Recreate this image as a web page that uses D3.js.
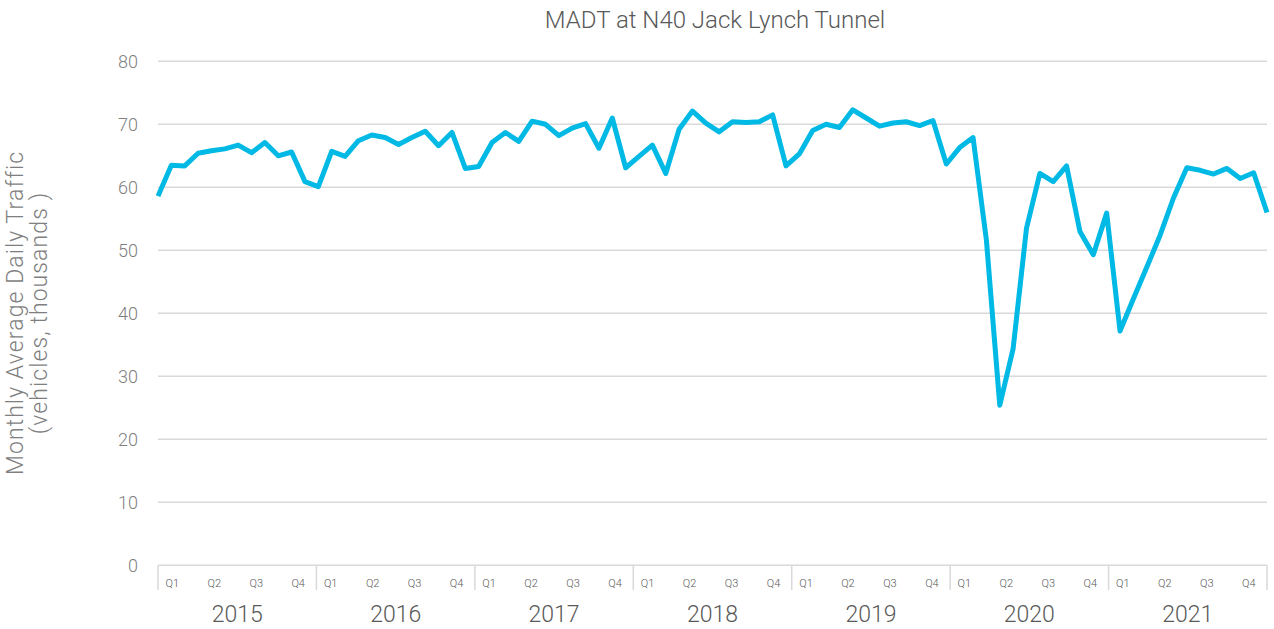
<!DOCTYPE html>
<html>
    <head>
        <title>MADT at N40 Jack Lynch Tunnel</title>
        <script src="https://d3js.org/d3.v7.min.js"></script>
        <style>
            body {
                margin: 0;
                background: white;
            }
            text {
                font-family: Roboto, "Open Sans", sans-serif;
                font-weight: 300;
            }
        </style>
    </head>
    <body>
        <svg id="chart" width="1274" height="629"></svg>

        <script>
            // data (thousands of vehicles per day)
            years = ["2015", "2016", "2017", "2018", "2019", "2020", "2021"]
            quarters = ["Q1", "Q2", "Q3", "Q4"]
            yTicks = [0, 10, 20, 30, 40, 50, 60, 70, 80]

            madt2015 = [58.6, 63.5, 63.4, 65.4, 65.8, 66.1, 66.7, 65.5, 67.1, 65.0, 65.6, 60.9]
            madt2016 = [60.1, 65.7, 64.9, 67.4, 68.3, 67.9, 66.8, 67.9, 68.9, 66.6, 68.7, 63.0]
            madt2017 = [63.3, 67.1, 68.7, 67.3, 70.5, 70.0, 68.2, 69.4, 70.1, 66.2, 71.0, 63.1]
            madt2018 = [64.9, 66.7, 62.2, 69.2, 72.1, 70.2, 68.8, 70.4, 70.3, 70.4, 71.5, 63.4]
            madt2019 = [65.3, 69.0, 70.0, 69.5, 72.3, 71.0, 69.7, 70.2, 70.4, 69.8, 70.6, 63.7]
            madt2020 = [66.3, 67.9, 51.6, 25.4, 34.4, 53.5, 62.2, 60.9, 63.4, 53.0, 49.3, 55.9]
            madt2021 = [37.2, 42.3, 47.3, 52.4, 58.3, 63.1, 62.7, 62.1, 63.0, 61.4, 62.3, 56.0]

            values = [].concat(madt2015, madt2016, madt2017, madt2018, madt2019, madt2020, madt2021)

            svg = d3.select("#chart")

            left = 158
            right = 1267
            top_ = 61.3
            bottom = 565.3

            x = d3.scaleLinear([0, values.length - 1], [left, right])
            y = d3.scaleLinear([0, 80], [bottom, top_])
            yearX = d3.scaleLinear([0, years.length], [left, right])

            grey = "#595959"

            // title
            svg.append("text")
                .attr("x", 715)
                .attr("y", 28)
                .attr("text-anchor", "middle")
                .attr("font-size", 24)
                .attr("fill", grey)
                .text("MADT at N40 Jack Lynch Tunnel")

            // gridlines
            svg.append("g")
                .selectAll("line")
                .data(yTicks.filter(d => d > 0))
                .join("line")
                .attr("x1", left)
                .attr("x2", right)
                .attr("y1", d => y(d))
                .attr("y2", d => y(d))
                .attr("stroke", "#d9d9d9")
                .attr("stroke-width", 1.5)

            // y tick labels
            svg.append("g")
                .selectAll("text")
                .data(yTicks)
                .join("text")
                .attr("x", 138)
                .attr("y", d => y(d) + 6.5)
                .attr("text-anchor", "end")
                .attr("font-size", 18)
                .attr("fill", "#7f7f7f")
                .text(d => d)

            // y axis title
            yt = svg.append("text")
                .attr("transform", "translate(0,313) rotate(-90)")
                .attr("text-anchor", "middle")
                .attr("font-size", 23)
                .attr("letter-spacing", 1.1)
                .attr("fill", "#7f7f7f")
            yt.append("tspan").attr("x", 0).attr("y", 23).text("Monthly Average Daily Traffic")
            yt.append("tspan").attr("x", 0).attr("y", 47).text("(vehicles, thousands )")

            // category axis box
            axis = svg.append("g")
            axis.append("line")
                .attr("x1", left)
                .attr("x2", right)
                .attr("y1", bottom)
                .attr("y2", bottom)
                .attr("stroke", "#d9d9d9")
                .attr("stroke-width", 1.5)

            axis.selectAll(".sep")
                .data(d3.range(years.length + 1))
                .join("line")
                .attr("class", "sep")
                .attr("x1", i => yearX(i))
                .attr("x2", i => yearX(i))
                .attr("y1", bottom)
                .attr("y2", 590)
                .attr("stroke", "#d9d9d9")
                .attr("stroke-width", 1.5)

            qData = []
            years.forEach((yr, i) => quarters.forEach((q, j) => qData.push({year: i, q: j, label: q})))

            axis.selectAll(".q")
                .data(qData)
                .join("text")
                .attr("class", "q")
                .attr("x", d => yearX(d.year + 0.09 + d.q * 0.265))
                .attr("y", 587)
                .attr("text-anchor", "middle")
                .attr("font-size", 11)
                .attr("font-weight", 400)
                .attr("fill", grey)
                .text(d => d.label)

            axis.selectAll(".yr")
                .data(years)
                .join("text")
                .attr("class", "yr")
                .attr("x", (d, i) => yearX(i + 0.5))
                .attr("y", 622)
                .attr("text-anchor", "middle")
                .attr("font-size", 23)
                .attr("fill", grey)
                .text(d => d)

            // the line
            line = d3.line()
                .x((d, i) => x(i))
                .y(d => y(d))

            svg.append("path")
                .datum(values)
                .attr("d", line)
                .attr("fill", "none")
                .attr("stroke", "#00b9e4")
                .attr("stroke-width", 5)
                .attr("stroke-linejoin", "round")
        </script>
    </body>
</html>
